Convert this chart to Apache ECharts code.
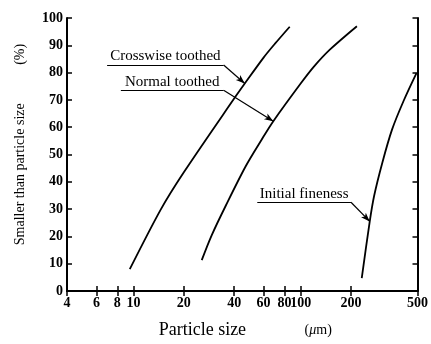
<!DOCTYPE html>
<html>
<head>
<meta charset="utf-8">
<script src="https://cdn.jsdelivr.net/npm/echarts@6/dist/echarts.min.js"></script>
<style>
  html, body { margin: 0; padding: 0; background: #fff; }
  #chart { width: 431px; height: 344px; }
</style>
</head>
<body>
<div id="chart"></div>
<script>
// particle size ticks (um), log scale
const xTicks = [4, 6, 8, 10, 20, 40, 60, 80, 100, 200, 500]

// size (um) and % smaller than size
const crossSize = [9.5, 14.6, 20, 40, 46.3, 60, 70, 86]
const crossPct = [8, 30, 43.5, 70.5, 76, 85.5, 90.5, 96.8]

const normalSize = [25.6, 29.3, 35.8, 46.9, 58.5, 68.6, 100, 120, 150, 217]
const normalPct = [11.3, 20.3, 31.5, 45.7, 55.5, 62.2, 76, 82.2, 88.5, 97]

const initialSize = [232, 259, 275, 308, 352, 412, 493]
const initialPct = [4.7, 25.5, 34.8, 47, 59.1, 69.5, 79.8]

// annotation leaders: [underline start, underline end, arrow tip] in data units
const crossNote = [[6.95, 82.8], [34.6, 82.8], [46.3, 76]]
const normalNote = [[8.4, 73.5], [34.6, 73.5], [68.6, 62.2]]
const initialNote = [[55, 32.5], [200, 32.5], [259, 25.5]]

const serif = 'Liberation Serif'

function pairs(xs, ys) {
  return xs.map((x, i) => [x, ys[i]])
}

function leader(note, text) {
  return {
    silent: true,
    animation: false,
    symbol: ['none', 'none'],
    lineStyle: { type: 'solid', color: '#000', width: 1.2 },
    data: [
      [
        {
          coord: note[0],
          label: {
            show: true,
            formatter: text,
            position: 'insideMiddleTop',
            distance: 1,
            color: '#000',
            fontFamily: serif,
            fontSize: 15
          }
        },
        { coord: note[1] }
      ],
      [
        { coord: note[1], label: { show: false } },
        { coord: note[2], symbol: 'arrow', symbolSize: [5, 9] }
      ]
    ]
  }
}

function curve(name, xs, ys, note, text) {
  return {
    name: name,
    type: 'line',
    data: pairs(xs, ys),
    smooth: 0.3,
    showSymbol: false,
    lineStyle: { color: '#000', width: 1.8 },
    animation: false,
    markLine: leader(note, text)
  }
}

const chart = echarts.init(document.getElementById('chart'))

const xBase = {
  type: 'log',
  logBase: 10,
  min: 4,
  max: 500,
  axisLine: { lineStyle: { color: '#000', width: 2 } },
  axisTick: { inside: true, length: 5, customValues: xTicks, lineStyle: { color: '#000', width: 1.5 } },
  splitLine: { show: false }
}

chart.setOption({
  backgroundColor: '#fff',
  grid: { left: 67, right: 5, top: 18, bottom: 52 },
  xAxis: [
    Object.assign({}, xBase, {
      position: 'bottom',
      name: 'Particle size             {u|(}{mu|μ}{u|m)}',
      nameLocation: 'middle',
      nameGap: 30,
      nameTextStyle: {
        color: '#000', fontFamily: serif, fontSize: 18,
        padding: [0, 0, 0, 6],
        rich: {
          u: { fontFamily: serif, fontSize: 14, color: '#000' },
          mu: { fontFamily: serif, fontSize: 14, fontStyle: 'italic', color: '#000' }
        }
      },
      axisLabel: {
        customValues: xTicks,
        margin: 5,
        color: '#000',
        fontFamily: serif,
        fontSize: 14,
        fontWeight: 'bold'
      }
    }),
    Object.assign({}, xBase, {
      position: 'top',
      axisLabel: { show: false }
    })
  ],
  yAxis: [
    {
      type: 'value',
      min: 0,
      max: 100,
      interval: 10,
      name: 'Smaller than particle size           (%)',
      nameLocation: 'middle',
      nameGap: 40,
      nameTextStyle: { color: '#000', fontFamily: serif, fontSize: 14, padding: [0, 0, 0, 20] },
      axisLine: { show: true, lineStyle: { color: '#000', width: 2 } },
      axisTick: { show: true, inside: true, length: 5, lineStyle: { color: '#000', width: 1.5 } },
      axisLabel: { margin: 4, color: '#000', fontFamily: serif, fontSize: 14, fontWeight: 'bold' },
      splitLine: { show: false }
    },
    {
      type: 'value',
      min: 0,
      max: 100,
      interval: 10,
      position: 'right',
      axisLine: { show: true, lineStyle: { color: '#000', width: 2 } },
      axisTick: { show: true, inside: true, length: 5, lineStyle: { color: '#000', width: 1.5 } },
      axisLabel: { show: false },
      splitLine: { show: false }
    }
  ],
  series: [
    curve('Crosswise toothed', crossSize, crossPct, crossNote, 'Crosswise toothed'),
    curve('Normal toothed', normalSize, normalPct, normalNote, 'Normal toothed'),
    curve('Initial fineness', initialSize, initialPct, initialNote, 'Initial fineness')
  ]
})
</script>
</body>
</html>
